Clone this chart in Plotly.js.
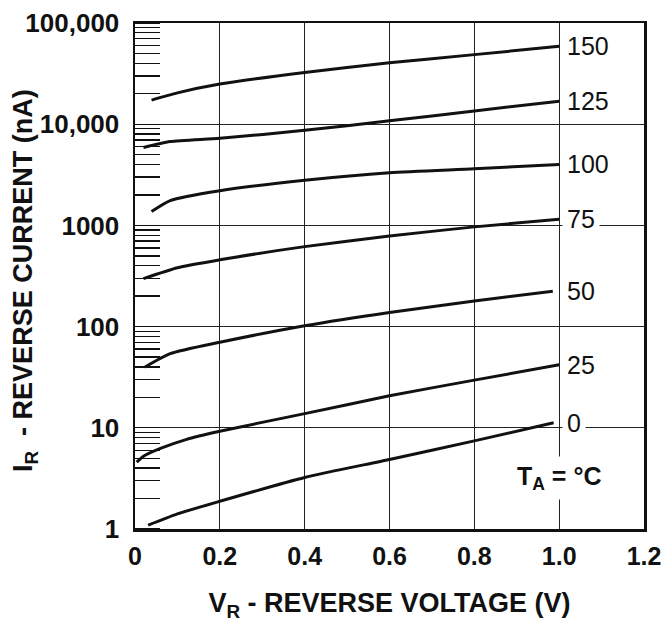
<!DOCTYPE html>
<html>
<head>
<meta charset="utf-8">
<script src="https://cdn.plot.ly/plotly-3.0.1.min.js"></script>
<style>html,body{margin:0;padding:0;background:#fff;}</style>
</head>
<body>
<div id="chart" style="width:666px;height:622px;"></div>
<script>
// Reverse voltage (V) and reverse current (nA), one pair per temperature
const vr150 = [0.039, 0.1, 0.2, 0.4, 0.6, 0.8, 1.0];
const ir150 = [17300, 20400, 24900, 32500, 40400, 48700, 58800];
const vr125 = [0.02, 0.083, 0.2, 0.4, 0.6, 0.8, 1.0];
const ir125 = [5890, 6730, 7250, 8700, 10800, 13500, 16900];
const vr100 = [0.039, 0.083, 0.2, 0.4, 0.6, 0.8, 1.0];
const ir100 = [1370, 1760, 2200, 2790, 3310, 3620, 4000];
const vr75 = [0.02, 0.1, 0.2, 0.4, 0.6, 0.8, 1.0];
const ir75 = [298, 382, 457, 617, 784, 967, 1150];
const vr50 = [0.023, 0.083, 0.2, 0.4, 0.6, 0.8, 0.985];
const ir50 = [39.7, 54, 70, 102, 138, 179, 224];
const vr25 = [0.004, 0.02, 0.06, 0.12, 0.2, 0.4, 0.6, 0.8, 1.0];
const ir25 = [4.58, 5.24, 6.26, 7.65, 9.25, 13.8, 20.7, 29.6, 41.9];
const vr0 = [0.031, 0.1, 0.2, 0.4, 0.6, 0.8, 0.987];
const ir0 = [1.09, 1.41, 1.88, 3.23, 4.86, 7.43, 11.2];

const tempLabels = ['150', '125', '100', '75', '50', '25', '0'];
const xTickVals = [0, 0.2, 0.4, 0.6, 0.8, 1.0, 1.2];
const xTickText = ['0', '0.2', '0.4', '0.6', '0.8', '1.0', '1.2'];
const yTickVals = [1, 10, 100, 1000, 10000, 100000];
const yTickText = ['1', '10', '100', '1000', '10,000', '100,000'];

const seriesX = [vr150, vr125, vr100, vr75, vr50, vr25, vr0];
const seriesY = [ir150, ir125, ir100, ir75, ir50, ir25, ir0];

const FONT = 'Liberation Sans, Arial, Helvetica, sans-serif';
const INK = '#111';

const traces = seriesX.map((xs, i) => ({
  type: 'scatter',
  mode: 'lines',
  x: xs,
  y: seriesY[i],
  name: tempLabels[i],
  line: {color: INK, width: 3, shape: 'spline', smoothing: 0.6},
  hoverinfo: 'skip'
}));

const labelAnnotations = tempLabels.map((t, i) => ({
  xref: 'x', yref: 'y',
  x: 1.0,
  y: Math.log10(seriesY[i][seriesY[i].length - 1]),
  text: t,
  showarrow: false,
  xanchor: 'left', yanchor: 'middle',
  align: 'left',
  xshift: 3,
  bgcolor: '#ffffff',
  borderpad: 4,
  font: {family: FONT, size: 25, color: INK}
}));

const layout = {
  width: 666,
  height: 622,
  margin: {l: 135, r: 22, t: 23, b: 93},
  paper_bgcolor: '#ffffff',
  plot_bgcolor: '#ffffff',
  showlegend: false,
  font: {family: FONT, color: INK},
  xaxis: {
    range: [0, 1.2],
    tickmode: 'array',
    tickvals: xTickVals,
    ticktext: xTickText,
    showgrid: true,
    gridcolor: '#222',
    gridwidth: 1,
    zeroline: false,
    showline: true,
    linecolor: INK,
    linewidth: 2.5,
    mirror: true,
    ticks: '',
    ticklabelstandoff: 3,
    tickfont: {family: FONT, size: 25, weight: 'bold', color: INK},
    title: {
      text: 'V<sub>R</sub> - REVERSE VOLTAGE (V)',
      font: {family: FONT, size: 27, weight: 'bold', color: INK},
      standoff: 26
    }
  },
  yaxis: {
    type: 'log',
    range: [0, 5],
    tickmode: 'array',
    tickvals: yTickVals,
    ticktext: yTickText,
    showgrid: true,
    gridcolor: '#222',
    gridwidth: 1,
    zeroline: false,
    showline: true,
    linecolor: INK,
    linewidth: 2.5,
    mirror: true,
    ticks: '',
    ticklabelstandoff: 8,
    tickfont: {family: FONT, size: 26, weight: 'bold', color: INK},
    minor: {
      ticks: 'inside',
      ticklen: 25,
      tickwidth: 1.3,
      tickcolor: INK,
      dtick: 'D1',
      showgrid: false
    }
  },
  annotations: labelAnnotations.concat([
    {
      xref: 'x', yref: 'paper',
      x: 1.0, y: 0.10,
      text: 'T<sub>A</sub> = °C',
      showarrow: false,
      xanchor: 'center', yanchor: 'middle',
      bgcolor: '#ffffff',
      borderpad: 5,
      font: {family: FONT, size: 25, weight: 'bold', color: INK}
    },
    {
      xref: 'paper', yref: 'paper',
      x: (25 - 135) / 509, y: 0.49,
      text: 'I<sub>R</sub>  - REVERSE CURRENT (nA)',
      textangle: -90,
      showarrow: false,
      xanchor: 'center', yanchor: 'middle',
      font: {family: FONT, size: 27, weight: 'bold', color: INK}
    }
  ])
};

Plotly.newPlot('chart', traces, layout, {displayModeBar: false, staticPlot: true});
</script>
</body>
</html>
